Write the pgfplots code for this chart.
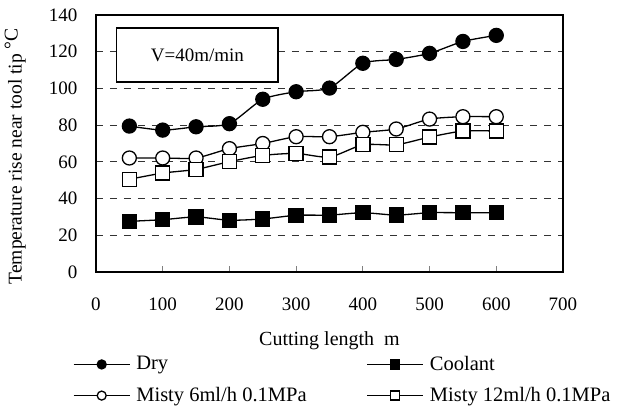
\documentclass[border=0pt]{standalone}
\usepackage{pgfplots}
\pgfplotsset{compat=1.18}
\usepackage{fontspec}
\setmainfont{Liberation Serif}
\begin{document}
\fontsize{19.5}{23}\selectfont
\begin{tikzpicture}[x=1pt,y=1pt]
\useasboundingbox (-96pt,-138pt) rectangle (526pt,272pt);
\begin{axis}[
  at={(0pt,0pt)}, anchor=south west,
  scale only axis, width=467pt, height=257pt,
  xmin=0, xmax=700, ymin=0, ymax=140,
  xtick={0,100,...,700}, ytick={0,20,...,140},
  tick align=inside, xtick pos=bottom, ytick pos=left,
  major tick length=6pt,
  ytick style={draw=none},
  xtick style={line width=0.8pt},
  axis line style={line width=1.6pt},
  ymajorgrids, grid style={dashed, line width=0.8pt, black!80, dash pattern=on 7pt off 7pt},
  /pgf/number format/assume math mode=true,
  ticklabel style={font=\fontsize{19}{22}\selectfont},
  xticklabel style={yshift=-19pt},
  yticklabel style={xshift=-12pt},
  xlabel={Cutting length\ \ m},
  xlabel style={font=\fontsize{20}{23}\selectfont, at={(axis description cs:0.5,-0.205)}, anchor=north},
  ylabel={Temperature rise near tool tip\ \raisebox{0.45ex}{°C}},
  ylabel style={font=\fontsize{19.5}{23}\selectfont, at={(axis description cs:-0.136,0.45)}, anchor=south},
  legend columns=2,
  legend style={draw=none, fill=none, font=\fontsize{20.5}{24}\selectfont,
     at={(axis description cs:-0.056,-0.31)}, anchor=north west,
     /tikz/every even column/.append style={column sep=58pt},
     /tikz/every odd column/.append style={column sep=4pt},
     row sep=10pt, cells={anchor=west}},
  legend image code/.code={\draw[mark repeat=2, mark phase=2, #1, mark size=4.5pt] plot coordinates {(0pt,0pt) (28pt,0pt) (56pt,0pt)};},
  every axis plot/.append style={line width=1.3pt, black, smooth, tension=0.4},
]
\addplot[mark=*, mark size=7pt, mark options={fill=black}] coordinates {
(50,79.5) (100,77.3) (150,79.1) (200,80.8) (250,94.1) (300,98.2) (350,100.2) (400,113.7) (450,115.8) (500,119.1) (550,125.6) (600,128.9)};
\addlegendentry{Dry}
\addplot[mark=square*, mark size=7pt, mark options={fill=black}] coordinates {
(50,27.6) (100,28.5) (150,30.0) (200,28.2) (250,28.9) (300,30.9) (350,31.0) (400,32.3) (450,31.0) (500,32.3) (550,32.3) (600,32.3)};
\addlegendentry{Coolant}
\addplot[mark=*, mark size=7pt, mark options={fill=white}] coordinates {
(50,62.1) (100,62.1) (150,62.1) (200,67.2) (250,70.0) (300,73.7) (350,73.7) (400,76.1) (450,77.9) (500,83.3) (550,84.6) (600,84.6)};
\addlegendentry{Misty 6ml/h 0.1MPa}
\addplot[mark=square*, mark size=7pt, mark options={fill=white}] coordinates {
(50,50.5) (100,53.9) (150,55.9) (200,60.1) (250,63.5) (300,64.6) (350,62.6) (400,69.3) (450,69.3) (500,73.5) (550,76.8) (600,76.8)};
\addlegendentry{Misty 12ml/h 0.1MPa}
\draw[line width=1.6pt, fill=white] (axis cs:31,133) rectangle (axis cs:273,103.5);
\node[font=\fontsize{19}{22}\selectfont] at (axis cs:152,118.2) {V=40m/min};
\end{axis}
\end{tikzpicture}
\end{document}
